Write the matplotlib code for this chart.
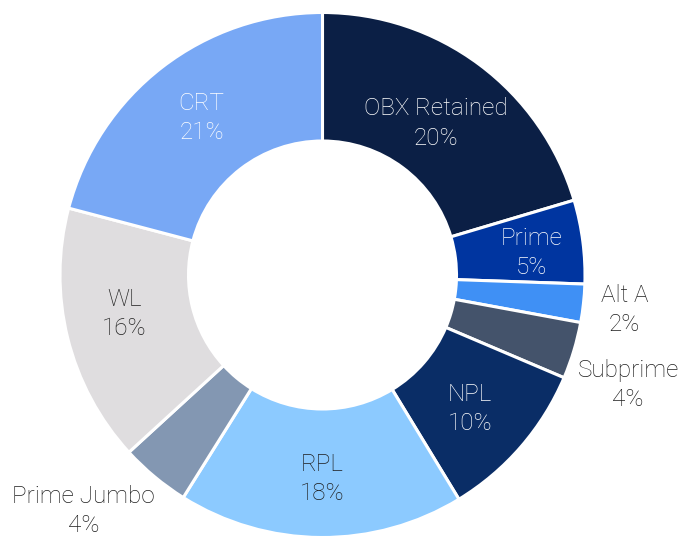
import numpy as np
import matplotlib.pyplot as plt

labels = ['OBX Retained', 'Prime', 'Alt A', 'Subprime', 'NPL',
          'RPL', 'Prime Jumbo', 'WL', 'CRT']
shares = [20.4, 5.15, 2.35, 3.5, 9.9, 17.6, 4.3, 15.9, 20.9]
pct_labels = ['20%', '5%', '2%', '4%', '10%', '18%', '4%', '16%', '21%']
colors = ['#0b1f45', '#0035a0', '#3f90f5', '#44536b', '#0a2d66',
          '#8ccaff', '#8397b2', '#dfdddf', '#78a8f5']
text_colors = ['white', 'white', '#1e1e1e', '#1e1e1e', 'white',
               '#1e1e1e', '#1e1e1e', '#1e1e1e', 'white']
# radial distance (px) and angle tweak (deg) of each label
label_r = [189, 210, 304, 325, 199, 204, 336, 202, 198]
label_dt = [0, -1.3, -0.4, -3.1, -1.4, 0.3, -5.6, -2.8, 0]

W, H = 681, 539
cx, cy, R, r_in = 322.5, H - 275, 262.5, 134

fig = plt.figure(figsize=(W / 100, H / 100), dpi=100)
ax = fig.add_axes([0, 0, 1, 1])

wedges, _ = ax.pie(shares, colors=colors, startangle=90, counterclock=False,
                   radius=R, center=(cx, cy),
                   wedgeprops=dict(width=R - r_in, edgecolor='white', linewidth=2.2))
ax.set_xlim(0, W)
ax.set_ylim(0, H)
ax.set_aspect('equal')
ax.axis('off')

for w, lab, pct, tc, rr, dt in zip(wedges, labels, pct_labels, text_colors, label_r, label_dt):
    ang = np.deg2rad((w.theta1 + w.theta2) / 2 + dt)
    x = cx + rr * np.cos(ang)
    y = cy + rr * np.sin(ang)
    ax.text(x, y, f'{lab}\n{pct}', ha='center', va='center', color=tc,
            fontsize=17.5, family=['Roboto', 'DejaVu Sans'], fontweight='light',
            linespacing=1.35)

fig.savefig('out.png', dpi=100)
